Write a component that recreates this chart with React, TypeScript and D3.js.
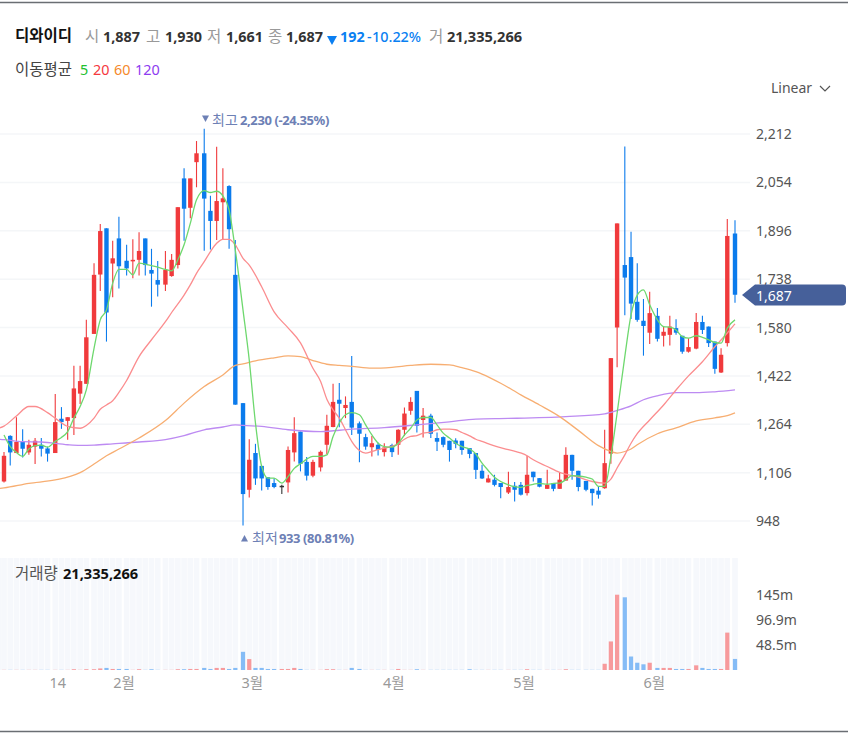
import React from "react";
import * as d3 from "d3";

const W = 848, H = 738;
// [open, high, low, close]
const candles: number[][] = [
[1077,1173,1074,1161],[1226,1228,1129,1172],[1170,1287,1170,1206],[1207,1248,1155,1184],[1172,1213,1164,1197],[1191,1219,1134,1210],[1197,1219,1159,1184],[1185,1191,1142,1168],[1170,1363,1170,1271],[1282,1320,1249,1271],
[1275,1287,1213,1287],[1284,1455,1229,1381],[1364,1455,1330,1405],[1396,1605,1396,1548],[1559,1790,1559,1752],[1753,1918,1699,1895],[1904,1904,1534,1629],[1789,1863,1679,1806],[1871,1942,1707,1780],[1798,1850,1750,1773],
[1796,1868,1741,1801],[1801,1891,1750,1830],[1871,1871,1750,1784],[1768,1837,1648,1756],[1735,1797,1681,1720],[1720,1830,1699,1768],[1748,1820,1746,1801],[1784,1973,1773,1973],[2067,2100,1863,1968],[1971,2067,1937,2067],
[2120,2189,2038,2149],[2149,2229,1831,2001],[1961,2010,1835,1928],[1928,2170,1866,1993],[1989,2100,1869,2002],[2042,2045,1837,1901],[1752,1866,1328,1328],[1333,1333,933,1036],[1050,1215,1025,1148],[1170,1200,1066,1087],
[1128,1128,1048,1087],[1091,1091,1050,1059],[1072,1088,1055,1059],[1063,1066,1036,1063],[1074,1191,1041,1180],[1172,1287,1142,1235],[1240,1240,1110,1135],[1141,1157,1080,1096],[1096,1148,1091,1141],[1123,1178,1110,1174],
[1197,1295,1167,1259],[1255,1396,1254,1337],[1344,1399,1254,1331],[1317,1355,1284,1327],[1337,1487,1229,1253],[1267,1273,1140,1233],[1222,1233,1181,1191],[1189,1226,1159,1202],[1197,1204,1162,1180],[1173,1202,1159,1188],
[1196,1200,1157,1173],[1197,1248,1164,1246],[1246,1319,1226,1299],[1308,1352,1295,1337],[1373,1373,1237,1259],[1278,1317,1221,1292],[1292,1298,1219,1233],[1219,1237,1177,1207],[1222,1224,1189,1197],[1210,1210,1142,1180],
[1211,1218,1186,1200],[1210,1210,1164,1180],[1186,1186,1153,1167],[1170,1170,1085,1115],[1112,1132,1085,1087],[1074,1099,1074,1087],[1083,1099,1061,1066],[1072,1072,1022,1059],[1041,1109,1036,1059],[1063,1075,1012,1050],
[1066,1075,1031,1034],[1039,1161,1031,1099],[1109,1109,1077,1091],[1088,1088,1058,1060],[1053,1115,1053,1066],[1072,1072,1045,1053],[1053,1108,1053,1083],[1080,1189,1080,1164],[1164,1164,1083,1112],[1112,1112,1045,1059],
[1079,1079,1045,1050],[1053,1053,999,1039],[1047,1061,1021,1034],[1055,1246,1053,1137],[1168,1480,1135,1480],[1580,1920,1450,1920],[1784,2171,1620,1743],[1810,1893,1608,1658],[1664,1790,1599,1605],[1602,1673,1488,1585],
[1563,1697,1526,1627],[1618,1644,1534,1543],[1553,1583,1518,1566],[1556,1618,1521,1583],[1578,1607,1556,1563],[1553,1553,1494,1501],[1501,1545,1498,1516],[1511,1627,1509,1598],[1598,1618,1559,1572],[1583,1583,1516,1529],
[1534,1534,1429,1445],[1433,1512,1431,1491],[1529,1934,1518,1879],[1887,1930,1661,1687],
];
// volumes in millions, one per candle
const volumes: number[] = [
.3,.3,.3,.3,.3,.3,.3,.3,.3,.3,.3,1.5,.3,1.5,1.5,3,4,2,2,2,.3,1.5,.3,1.5,.3,.3,.3,1.5,1.5,2,2,4,2,4,4,2,4,35,21,4,4,2,2,2,2,4,2,.3,.3,.3,1.5,1.5,.3,.3,4,2,.3,.3,.3,.3,.3,2,.3,.3,1.5,.3,.3,.3,.3,.3,.3,.3,1.5,.3,.3,.3,.3,.3,.3,.3,.3,1.5,.3,.3,.3,.3,.3,1.5,.3,.3,.3,.3,.3,12,55,145,140,26,14,11,14,4,4,4,2,2,2,9,4,2,2,2,72,21.3,
];
// candle indices (1-based) after which the date axis leaves a small gap
const weekBreaks = [8,14,19,25,31,37,43,49,55,60,66,72,78,84,90,96,101,107,113];

const ma5: [number, number][] = [[1,1229],[2,1191],[3,1172],[4,1159],[5,1183],[6,1194],[7,1196],[8,1189],[9,1208],[10,1221],[11,1240],[12,1284],[13,1322],[14,1376],[15,1512],[16,1605],[17,1637],[18,1725],[19,1770],[20,1770],[21,1752],[22,1790],[23,1787],[24,1782],[25,1777],[26,1770],[27,1765],[28,1801],[29,1850],[30,1920],[31,1997],[32,2027],[33,2021],[34,2025],[35,2010],[36,1964],[37,1833],[38,1637],[39,1474],[40,1268],[41,1126],[42,1088],[43,1088],[44,1072],[45,1093],[46,1120],[47,1135],[48,1150],[49,1159],[50,1159],[51,1164],[52,1224],[53,1268],[54,1295],[55,1302],[56,1295],[57,1262],[58,1229],[59,1202],[60,1191],[61,1189],[62,1202],[63,1229],[64,1251],[65,1278],[66,1286],[67,1286],[68,1262],[69,1235],[70,1219],[71,1202],[72,1191],[73,1183],[74,1167],[75,1137],[76,1113],[77,1091],[78,1077],[79,1066],[80,1060],[81,1058],[82,1064],[83,1068],[84,1071],[85,1068],[86,1071],[87,1072],[88,1083],[89,1096],[90,1095],[91,1091],[92,1085],[93,1061],[94,1061],[95,1159],[96,1300],[97,1485],[98,1621],[99,1686],[100,1703],[101,1654],[102,1605],[103,1583],[104,1581],[105,1572],[106,1550],[107,1545],[108,1553],[109,1548],[110,1540],[111,1531],[112,1529],[113,1578],[114,1605]];
const ma20: [number, number][] = [[-1,1246],[1,1258],[3,1291],[5,1322],[6,1322],[8,1302],[9,1284],[11,1257],[13,1251],[14,1260],[15,1284],[16,1313],[17,1327],[18,1341],[19,1368],[20,1407],[22,1485],[24,1540],[26,1599],[27,1629],[29,1686],[30,1719],[31,1757],[32,1795],[33,1828],[34,1855],[35,1868],[36,1868],[37,1850],[38,1806],[39,1784],[41,1713],[43,1631],[45,1579],[47,1530],[49,1447],[50,1404],[51,1346],[52,1311],[53,1284],[54,1246],[55,1208],[56,1178],[57,1170],[58,1175],[59,1181],[60,1186],[62,1200],[63,1215],[64,1224],[65,1227],[66,1235],[67,1238],[68,1246],[69,1248],[70,1248],[71,1246],[72,1237],[73,1226],[74,1215],[75,1208],[77,1193],[79,1181],[82,1161],[83,1148],[85,1126],[87,1107],[88,1101],[90,1091],[92,1077],[94,1072],[95,1085],[96,1121],[97,1164],[98,1202],[99,1233],[101,1278],[103,1327],[105,1376],[107,1422],[109,1468],[111,1517],[112,1539],[113,1562],[114,1592]];
const ma60: [number, number][] = [[-1,1052],[1,1056],[5,1071],[9,1082],[13,1106],[15,1134],[17,1161],[19,1183],[22,1219],[26,1276],[29,1333],[32,1387],[35,1425],[37,1456],[38,1461],[40,1471],[43,1481],[45,1487],[47,1485],[49,1472],[51,1460],[53,1456],[55,1453],[58,1447],[61,1450],[64,1456],[67,1460],[70,1458],[72,1449],[74,1436],[75,1428],[78,1398],[81,1360],[84,1327],[87,1289],[90,1244],[93,1194],[95,1175],[96,1170],[97,1175],[98,1183],[99,1197],[102,1233],[105,1252],[108,1275],[111,1285],[113,1292],[114,1301]];
const ma120: [number, number][] = [[-1,1216],[1,1214],[4,1207],[7,1206],[11,1197],[13,1195],[15,1196],[18,1200],[22,1206],[26,1214],[29,1227],[32,1246],[35,1255],[37,1262],[38,1260],[41,1257],[45,1246],[50,1240],[55,1248],[60,1253],[65,1262],[70,1272],[74,1281],[79,1283],[88,1289],[94,1298],[96,1309],[98,1324],[100,1344],[102,1357],[105,1367],[108,1367],[111,1370],[114,1376]];

const priceTicks = [2212, 2054, 1896, 1738, 1580, 1422, 1264, 1106, 948];
const volumeTicks: [number, string][] = [[145, "145m"], [96.9, "96.9m"], [48.5, "48.5m"]];
const timeLabels: [number, string][] = [[9.4, "14"], [19.6, "2월"], [39.5, "3월"], [61.3, "4월"], [81.5, "5월"], [101.5, "6월"]];
const headerItems: [number, string, string, number, number][] = [
  [85, "시", "#999", 400, 15.5], [103, "1,887", "#333", 700, 14.4], [146, "고", "#999", 400, 15.5], [165, "1,930", "#333", 700, 14.4],
  [207, "저", "#999", 400, 15.5], [226, "1,661", "#333", 700, 14.4], [268, "종", "#999", 400, 15.5], [286, "1,687", "#333", 700, 14.4],
  [340, "192", "#0a7ff2", 700, 14.4], [367, "-", "#0a7ff2", 500, 14.4], [372, "10.22%", "#0a7ff2", 500, 14.4], [429, "거", "#999", 400, 15.5], [447, "21,335,266", "#333", 700, 14.6],
];
const maLegend: [number, string, string][] = [[80, "5", "#22c02e"], [93, "20", "#f5383e"], [114, "60", "#f58a2c"], [135, "120", "#8d3cf0"]];

const RED = "#f03a3c", BLUE = "#0b7bec", DARK = "#333";
const FONT = "'Noto Sans', 'Noto Sans CJK KR', sans-serif";

const breaksBefore = (i: number) => weekBreaks.filter((b) => b < i).length;
const slot = (i: number) => i + 0.24 * breaksBefore(i);
const x = d3.scaleLinear().domain([slot(1), slot(114)]).range([4, 735]);
const y = d3.scaleLinear().domain([2212, 948]).range([134, 521]);
const yv = d3.scaleLinear().domain([0, 145]).range([670, 594.7]);

const maLine = d3.line<[number, number]>()
  .x((d) => x(d[0] < 1 ? d[0] : slot(d[0])))
  .y((d) => y(d[1]))
  .curve(d3.curveMonotoneX);

const maSeries: [[number, number][], string][] = [[ma120, "#bd8bf2"], [ma60, "#f7ae72"], [ma20, "#fb8d8f"], [ma5, "#6ed86e"]];

export default function App() {
  const barW = 4.4;
  return (
    <svg width={W} height={H} viewBox={`0 0 ${W} ${H}`} style={{ position: "absolute", left: 0, top: 0, fontFamily: FONT, display: "block" }}>
      <rect width={W} height={H} fill="#fff" />
      <line x1={0} x2={W} y1={2.5} y2={2.5} stroke="#6a6e73" strokeWidth={1.3} />
      <line x1={0} x2={W} y1={731.5} y2={731.5} stroke="#6a6e73" strokeWidth={1.3} />

      <text x={15} y={41} fontSize={15.5} fontWeight={700} fill="#111">디와이디</text>
      {headerItems.map(([px, t, c, w, fs], i) => (
        <text key={i} x={px} y={42} fontSize={fs} fontWeight={w} fill={c}>{t}</text>
      ))}
      <path d="M327,36 h10 l-5,9 z" fill="#0a7ff2" />
      <text x={15} y={75} fontSize={15.5} fill="#444">이동평균</text>
      {maLegend.map(([px, t, c]) => (
        <text key={t} x={px} y={75} fontSize={14.4} fill={c}>{t}</text>
      ))}

      <text x={771} y={93} fontSize={14} fill="#555">Linear</text>
      <path d="M820,86 l5,5 l5,-5" fill="none" stroke="#555" strokeWidth={1.2} />

      {priceTicks.map((t) => (
        <line key={t} x1={0} x2={750} y1={y(t)} y2={y(t)} stroke="#f4f6f8" strokeWidth={1.5} />
      ))}

      {/* volume pane */}
      {candles.map((_, k) => {
        const cx = x(slot(k + 1));
        return <rect key={k} x={cx - 2.8} width={5.6} y={558} height={112} fill="#f6f8fc" />;
      })}
      <rect x={0} width={1} y={558} height={112} fill="#f6f8fc" />
      {volumes.map((v, k) => {
        const c = candles[k];
        const cx = x(slot(k + 1));
        return <rect key={k} x={cx - 2.1} width={4.2} y={yv(v)} height={670 - yv(v)} fill={c[3] >= c[0] ? "#f79a9c" : "#85bcf6"} />;
      })}
      <text x={15} y={579} fontSize={15.5} fill="#555">거래량</text>
      <text x={63} y={579} fontSize={14.6} fontWeight={700} fill="#111">21,335,266</text>

      {/* candles */}
      {candles.map(([o, h, l, c], k) => {
        const cx = x(slot(k + 1));
        const col = Math.abs(o - c) < 1 ? DARK : c > o ? RED : BLUE;
        const top = y(Math.max(o, c));
        const bh = Math.max(1.5, Math.abs(y(o) - y(c)));
        return (
          <g key={k}>
            <line x1={cx} x2={cx} y1={y(h)} y2={y(l)} stroke={col} strokeWidth={1.1} />
            <rect x={cx - barW / 2} y={top} width={barW} height={bh} fill={col} />
          </g>
        );
      })}

      {/* moving averages */}
      {maSeries.map(([d, col], i) => (
        <path key={i} d={maLine(d) ?? ""} fill="none" stroke={col} strokeWidth={1.3} />
      ))}

      {/* high / low markers */}
      <path d="M202,115.5 h7 l-3.5,6.5 z" fill="#6d80b5" />
      <text x={212} y={125} fontSize={14} fill="#6d80b5">최고</text>
      <text x={240} y={125} fontSize={13} fontWeight={700} fill="#6d80b5" letterSpacing={-0.4}>2,230 (-24.35%)</text>
      <path d="M241,541.5 h7 l-3.5,-6.5 z" fill="#6d80b5" />
      <text x={252} y={543} fontSize={14} fill="#6d80b5">최저</text>
      <text x={279} y={543} fontSize={13} fontWeight={700} fill="#6d80b5" letterSpacing={-0.4}>933 (80.81%)</text>

      {/* axis labels */}
      {priceTicks.map((t) => (
        <text key={t} x={756} y={y(t) + 5} fontSize={14} fill="#555">{d3.format(",")(t)}</text>
      ))}
      <path d="M742,295 L755,284.5 H842 Q846,284.5 846,288.5 V301.5 Q846,305.5 842,305.5 H755 Z" fill="#46609a" />
      <text x={756} y={300.5} fontSize={14} fill="#fff">1,687</text>
      {volumeTicks.map(([v, s]) => (
        <text key={s} x={756} y={yv(v) + 5} fontSize={14} fill="#555">{s}</text>
      ))}
      {timeLabels.map(([i, s]) => (
        <text key={s} x={x(slot(i))} y={688} fontSize={14.5} fill="#999" textAnchor="middle">{s}</text>
      ))}
    </svg>
  );
}
